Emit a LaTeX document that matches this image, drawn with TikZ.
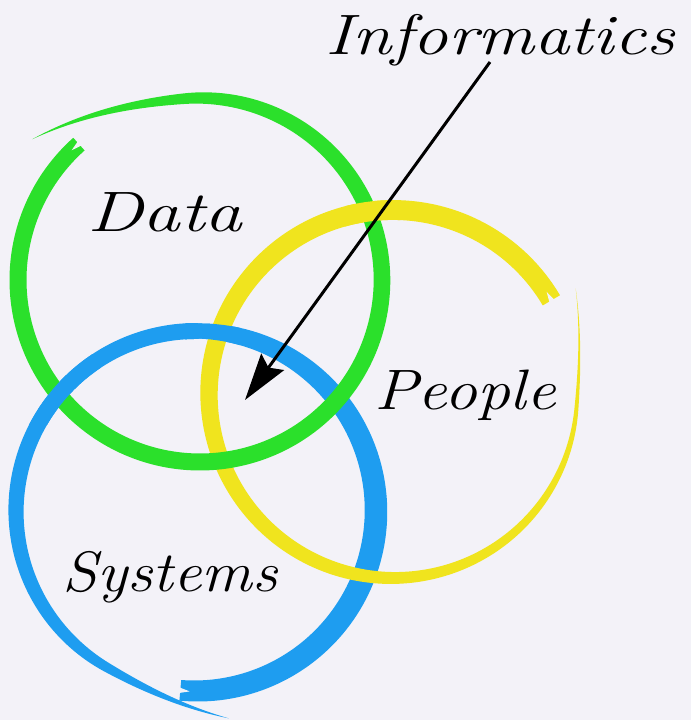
\documentclass[tikz,border=0pt]{standalone}
\usepackage{fontspec}
\usetikzlibrary{arrows.meta}
\definecolor{bg}{HTML}{F3F2F8}
\definecolor{cgreen}{HTML}{2BE02B}
\definecolor{cyellow}{HTML}{F0E41E}
\definecolor{cblue}{HTML}{1E9DF0}
\newcommand\brushring[7]{%
  \fill[#1] plot[variable=\t,domain=#4:#5,samples=160,smooth]
    ({#2+(#6(\t)+#7(\t)/2)*cos(\t)},{#3+(#6(\t)+#7(\t)/2)*sin(\t)})
    -- plot[variable=\t,domain=#5:#4,samples=160,smooth]
    ({#2+(#6(\t)-#7(\t)/2)*cos(\t)},{#3+(#6(\t)-#7(\t)/2)*sin(\t)}) -- cycle;}
\newcommand\brushnotch[4]{%
  \fill[bg] ({#1+(#4+3)*cos(#3-0.6)},{#2+(#4+3)*sin(#3-0.6)})
    -- ({#1+(#4+0.5)*cos(#3+3)},{#2+(#4+0.5)*sin(#3+3)})
    -- ({#1+(#4-3)*cos(#3-0.6)},{#2+(#4-3)*sin(#3-0.6)}) -- cycle;}
\newcommand\bluering{\brushring{cblue}{196}{209}{265}{639}{rb}{wb}}
\newcommand\yellowring{\brushring{cyellow}{393}{326}{30.6}{390}{ry}{wy}}
\newcommand\greenring{\brushring{cgreen}{200}{440}{131.7}{500}{rg}{wg}}
\tikzset{
  declare function={
    sq(\x)=\x*\x;
    rg(\t)=182+0.0183*sq(max(\t,455)-455);
    ug(\t)=(max(\t,200)-200)/300;
    wg(\t)=17*(1-sq(ug(\t))*sq(ug(\t))*sq(ug(\t)));
    rb(\t)=180+0.0197*sq(max(\t,600)-600);
    vb(\t)=(max(\t,450)-450)/189;
    wb(\t)=(\t<450) ? (23-8*sq((\t-330)/120)) : (16*(1-sq(vb(\t))*sq(vb(\t))));
    ry(\t)=184+0.022*sq(max(\t,355)-355);
    uy(\t)=(max(\t,60)-60)/330;
    wy(\t)=20*(1-sq(uy(\t)));
  },
  lbl/.style={anchor=base, inner sep=0pt, font=\fontsize{57}{60}\selectfont\itshape},
  pointer/.style={line width=3pt, -{Stealth[length=47pt,width=28pt,inset=7pt]}}
}
\begin{document}
\begin{tikzpicture}[x=1pt,y=1pt]
\useasboundingbox (0,0) rectangle (691,720);
\fill[bg] (0,0) rectangle (691,720);
% base layers
\bluering
\brushnotch{196}{209}{265}{180}
\yellowring
\brushnotch{393}{326}{30.6}{184}
\greenring
\brushnotch{200}{440}{131.7}{182}
% interwoven crossings
\begin{scope}
  \clip (345,475) rectangle (400,525);
  \yellowring
\end{scope}
\begin{scope}
  \clip (25,295) rectangle (100,365);
  \bluering
\end{scope}
\begin{scope}
  \clip (185,360) rectangle (240,405);
  \bluering
\end{scope}
% labels
\node[lbl] (inf) at (500,665) {\scalebox{1.245}[1]{Informatics}};
\node[lbl] (data) at (165,488) {\scalebox{1.32}[1]{Data}};
\node[lbl] (people) at (465,310) {\scalebox{1.155}[1]{People}};
\node[lbl] (systems) at (170,128) {\scalebox{1.11}[1]{Systems}};
% arrow
\coordinate (astart) at (490,658);
\coordinate (atip) at (245,320);
\draw[pointer] (astart) -- (atip);
\end{tikzpicture}
\end{document}
